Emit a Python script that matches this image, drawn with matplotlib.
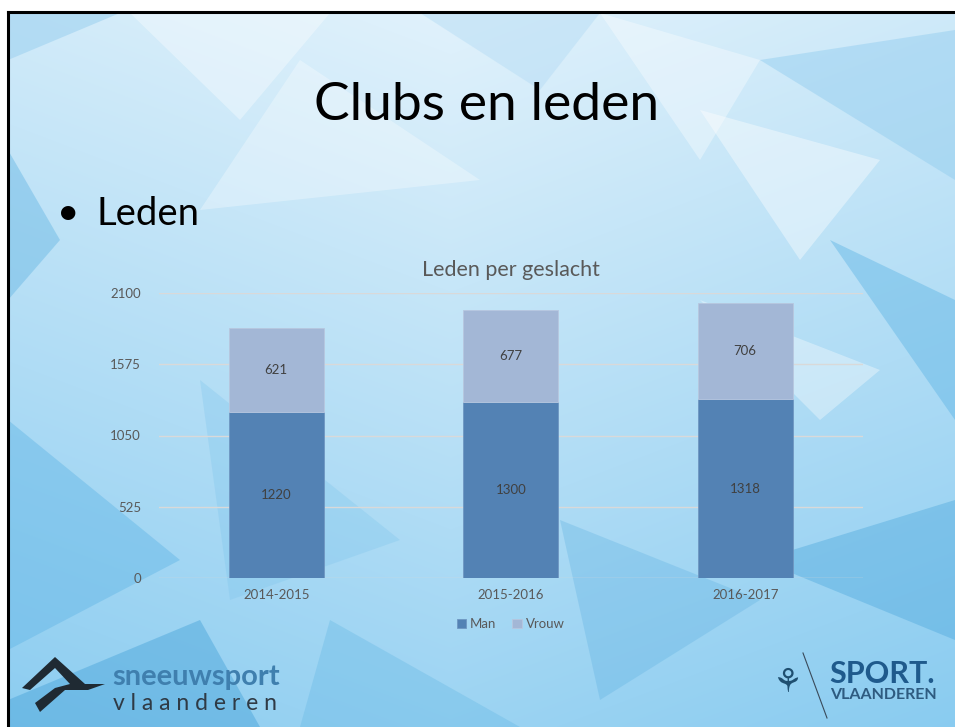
import numpy as np
import matplotlib
matplotlib.use("Agg")
import matplotlib.pyplot as plt
from matplotlib.patches import Polygon, Rectangle

plt.rcParams['font.family'] = ['Lato', 'DejaVu Sans']

# data
seasons = ['2014-2015', '2015-2016', '2016-2017']
man = [1220, 1300, 1318]
vrouw = [621, 677, 706]
yticks = [0, 525, 1050, 1575, 2100]

c_man = '#5382b4'
c_vrouw = '#a3b7d6'
c_text = '#595959'

W, H = 955, 727
fig = plt.figure(figsize=(W / 100, H / 100), dpi=100)

# slide background: gradient + a few low-poly facets
bg = fig.add_axes([0, 0, 1, 1])
bg.set_xlim(0, W)
bg.set_ylim(H, 0)
bg.axis('off')
yy, xx = np.mgrid[0:H, 0:W]
t = np.clip(0.6 * yy / H + 0.3 * np.abs(xx - 450) / W + 0.05, 0, 1)
top = np.array([0.91, 0.96, 0.99])
bot = np.array([0.45, 0.76, 0.93])
img = top[None, None, :] * (1 - t[..., None]) + bot[None, None, :] * t[..., None]
bg.imshow(img, extent=[0, W, H, 0], aspect='auto', zorder=0)

facets = [
    ([(8, 60), (120, 13), (8, 13)], '#9fd2f0', 0.6),
    ([(8, 150), (60, 240), (8, 300)], '#6fbbe6', 0.5),
    ([(420, 13), (600, 13), (540, 90)], '#b7ddf5', 0.5),
    ([(600, 13), (760, 60), (700, 160)], '#ffffff', 0.35),
    ([(760, 60), (955, 30), (955, 180)], '#8fcbee', 0.45),
    ([(700, 110), (880, 160), (800, 260)], '#ffffff', 0.4),
    ([(830, 240), (955, 300), (955, 420)], '#5fb5e5', 0.45),
    ([(8, 420), (180, 560), (8, 650)], '#62b6e6', 0.45),
    ([(200, 380), (400, 540), (230, 600)], '#7cc4ec', 0.3),
    ([(560, 520), (760, 600), (600, 700)], '#5aaee0', 0.3),
    ([(760, 560), (955, 500), (955, 640)], '#4aa6dc', 0.4),
    ([(8, 700), (200, 620), (260, 727), (8, 727)], '#4fa8dc', 0.5),
    ([(330, 620), (520, 727), (300, 727)], '#6bbbe6', 0.4),
    ([(130, 13), (330, 13), (240, 120)], '#ffffff', 0.35),
    ([(700, 300), (880, 370), (820, 420)], '#ffffff', 0.35),
    ([(300, 60), (480, 180), (200, 210)], '#ffffff', 0.3),
]
for pts, col, a in facets:
    bg.add_patch(Polygon(pts, closed=True, facecolor=col, alpha=a, edgecolor='none', zorder=1))

# slide frame
bg.add_patch(Rectangle((0, 0), W, 11, facecolor='white', edgecolor='none', zorder=3))
bg.add_patch(Rectangle((0, 0), 7, H, facecolor='white', edgecolor='none', zorder=3))
bg.plot([8, W], [12, 12], color='black', lw=2.2, zorder=4)
bg.plot([8, 8], [12, H], color='black', lw=2.2, zorder=4)

# slide texts
bg.text(487, 106, 'Clubs en leden', fontsize=38.5, ha='center', va='center', color='black', zorder=5)
bg.text(68, 213, '\u2022', fontsize=28, ha='center', va='center', color='black', zorder=5)
bg.text(96, 214, 'Leden', fontsize=27.5, ha='left', va='center', color='black', zorder=5)

# logos
bg.text(112, 677, 'sneeuwsport', fontsize=21, fontweight='bold', color='#3f7fae', ha='left', va='center', zorder=5)
bg.text(113, 704, 'v l a a n d e r e n', fontsize=16.5, color='#2f3a45', ha='left', va='center', zorder=5)
bg.add_patch(Polygon([(22, 688), (55, 657), (85, 684), (105, 684), (88, 690), (65, 690), (40, 712), (35, 703), (55, 688), (70, 684), (55, 668), (30, 690)],
                     closed=True, facecolor='#1f2a33', edgecolor='none', zorder=5))
bg.plot([803, 827], [653, 718], color='#3a4a5a', lw=0.8, zorder=5)
bg.text(829, 674, 'SPORT.', fontsize=22, fontweight='bold', color='#1f5a8c', ha='left', va='center', zorder=5)
bg.text(830, 695, 'VLAANDEREN', fontsize=11.5, fontweight='bold', color='#2e5b80', ha='left', va='center', zorder=5)
bg.text(787, 683, '\u2698', fontsize=24, color='#1f4f70', ha='center', va='center', zorder=5,
        family=['DejaVu Sans'])

# chart
ax = fig.add_axes([159 / W, 1 - 578 / H, 703.5 / W, (578 - 293) / H])
ax.patch.set_alpha(0)
x = np.arange(len(seasons))
b1 = ax.bar(x, man, width=0.405, color=c_man, edgecolor='#6f97c2', lw=0.6, label='Man', zorder=3)
b2 = ax.bar(x, vrouw, width=0.405, bottom=man, color=c_vrouw, edgecolor='#b7c7df', lw=0.6, label='Vrouw', zorder=3)
for i in range(len(seasons)):
    ax.text(x[i], man[i] / 2, str(man[i]), ha='center', va='center', fontsize=9.5, color='#404040', zorder=4)
    ax.text(x[i], man[i] + vrouw[i] / 2, str(vrouw[i]), ha='center', va='center', fontsize=9.5, color='#404040', zorder=4)

ax.set_xlim(-0.5, 2.5)
ax.set_ylim(0, 2100)
ax.set_yticks(yticks)
ax.set_xticks(x)
ax.set_xticklabels(seasons)
ax.tick_params(axis='both', length=0, labelsize=9.5, labelcolor=c_text)
ax.tick_params(axis='y', pad=13)
ax.tick_params(axis='x', pad=8)
ax.grid(axis='y', color='#d9d9d9', lw=1, zorder=0)
for s in ax.spines.values():
    s.set_visible(False)
ax.set_title('Leden per geslacht', fontsize=15.5, color=c_text, pad=12)
ax.legend(loc='upper center', bbox_to_anchor=(0.5, -0.1), ncol=2, frameon=False, fontsize=9.5,
          handlelength=0.7, handleheight=0.7, columnspacing=1.2, handletextpad=0.3, labelcolor=c_text)

fig.savefig('out.png', dpi=100)
